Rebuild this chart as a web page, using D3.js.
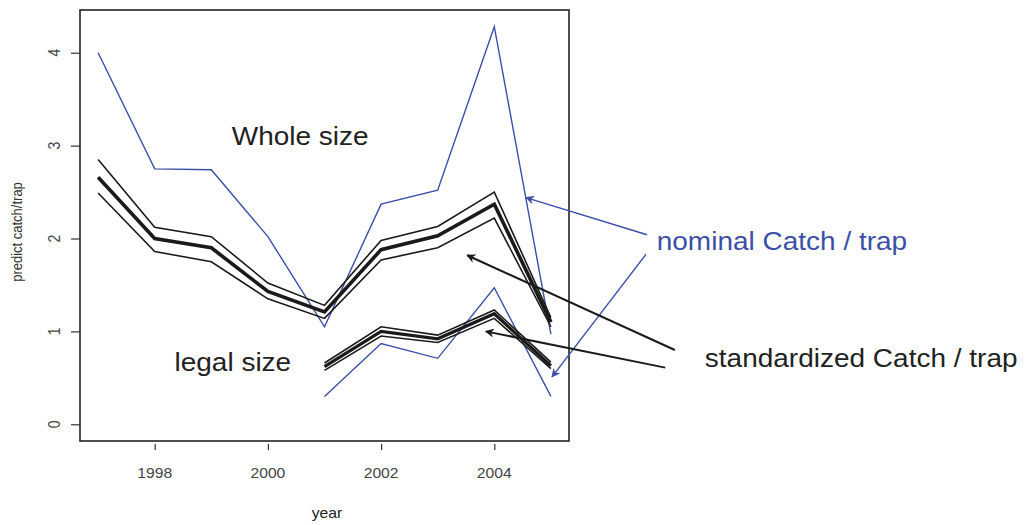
<!DOCTYPE html>
<html>
<head>
<meta charset="utf-8">
<script src="https://cdn.jsdelivr.net/npm/d3@7"></script>
<style>
  html, body { margin: 0; padding: 0; background: #fff; }
  svg { display: block; }
  text { font-family: "Liberation Sans", Arial, Helvetica, sans-serif; }
</style>
</head>
<body>
<svg id="chart" width="1025" height="525"></svg>
<script>
// Survey years
const yearsWhole = [1997, 1998, 1999, 2000, 2001, 2002, 2003, 2004, 2005];
const yearsLegal = [2001, 2002, 2003, 2004, 2005];

// Whole size: nominal catch per trap and standardized estimate with its band
const wholeNominal = [4.00, 2.75, 2.74, 2.02, 1.05, 2.37, 2.52, 4.28, 0.97];
const wholeStd     = [2.66, 2.00, 1.90, 1.43, 1.21, 1.88, 2.03, 2.37, 1.10];
const wholeUpper   = [2.85, 2.12, 2.02, 1.52, 1.28, 1.98, 2.13, 2.50, 1.15];
const wholeLower   = [2.49, 1.86, 1.75, 1.35, 1.14, 1.77, 1.90, 2.22, 1.05];

// Legal size: nominal catch per trap and standardized estimate with its band
const legalNominal = [0.30, 0.87, 0.71, 1.47, 0.30];
const legalStd     = [0.62, 1.00, 0.92, 1.19, 0.63];
const legalUpper   = [0.66, 1.05, 0.96, 1.23, 0.67];
const legalLower   = [0.58, 0.95, 0.88, 1.14, 0.60];

// Axis ticks
const xTicks = [1998, 2000, 2002, 2004];
const yTicks = [0, 1, 2, 3, 4];

// Annotation arrows in data units: [tailYear, tailValue, headYear, headValue]
const blueArrows  = [[2006.70, 2.04, 2004.56, 2.44], [2006.68, 1.83, 2005.02, 0.51]];
const blackArrows = [[2007.19, 0.80, 2003.52, 1.82], [2007.02, 0.61, 2003.85, 1.00]];

const BLUE = "#3c4fa6";
const INK = "#1a1a1a";
const SX = 1.12; // horizontal text stretch

const svg = d3.select("#chart");
const x = d3.scaleLinear().domain([1996.68, 2005.32]).range([80, 569]);
const y = d3.scaleLinear().domain([-0.18, 4.46]).range([441, 10]);

// Arrowhead markers
const defs = svg.append("defs");
[["headBlue", BLUE], ["headBlack", INK]].forEach(([id, c]) => {
  defs.append("marker")
    .attr("id", id)
    .attr("viewBox", "0 0 10 10")
    .attr("refX", 9).attr("refY", 5)
    .attr("markerWidth", 11).attr("markerHeight", 9)
    .attr("markerUnits", "userSpaceOnUse")
    .attr("orient", "auto")
    .append("path").attr("d", "M0,0 L10,5 L0,10 L3,5 Z").attr("fill", c);
});

const line = (yrs) => d3.line().x((d, i) => x(yrs[i])).y(d => y(d));

function drawSeries(vals, yrs, color, width) {
  svg.append("path")
    .datum(vals)
    .attr("d", line(yrs))
    .attr("fill", "none")
    .attr("stroke", color)
    .attr("stroke-width", width)
    .attr("stroke-linejoin", "miter");
}

// Whole size
drawSeries(wholeNominal, yearsWhole, BLUE, 1.4);
drawSeries(wholeUpper, yearsWhole, INK, 1.6);
drawSeries(wholeLower, yearsWhole, INK, 1.6);
drawSeries(wholeStd, yearsWhole, INK, 3.6);

// Legal size
drawSeries(legalNominal, yearsLegal, BLUE, 1.4);
drawSeries(legalUpper, yearsLegal, INK, 1.6);
drawSeries(legalLower, yearsLegal, INK, 1.6);
drawSeries(legalStd, yearsLegal, INK, 3.2);

// Plot frame
svg.append("rect")
  .attr("x", x.range()[0]).attr("y", y.range()[1])
  .attr("width", x.range()[1] - x.range()[0])
  .attr("height", y.range()[0] - y.range()[1])
  .attr("fill", "none").attr("stroke", "#222").attr("stroke-width", 1.6);

// X axis
const xAxis = svg.append("g")
  .attr("transform", `translate(0,${y.range()[0]})`)
  .call(d3.axisBottom(x).tickValues(xTicks).tickFormat(d3.format("d")).tickSize(8).tickPadding(0));
xAxis.select(".domain").remove();
xAxis.selectAll(".tick line").attr("stroke", "#333").attr("stroke-width", 1.2).attr("y1", 3).attr("y2", 9);
xAxis.selectAll(".tick text").remove();
xTicks.forEach(t => {
  svg.append("text")
    .attr("transform", `translate(${x(t)},478) scale(${SX},1)`)
    .attr("text-anchor", "middle")
    .attr("font-size", 14).attr("fill", "#444")
    .text(t);
});

// Y axis
const yAxis = svg.append("g")
  .attr("transform", `translate(${x.range()[0]},0)`)
  .call(d3.axisLeft(y).tickValues(yTicks).tickSize(9));
yAxis.select(".domain").remove();
yAxis.selectAll(".tick line").attr("stroke", "#333").attr("stroke-width", 1.2);
yAxis.selectAll(".tick text").remove();
yTicks.forEach(t => {
  svg.append("text")
    .attr("transform", `translate(60,${y(t)}) rotate(-90) scale(1,${SX})`)
    .attr("text-anchor", "middle")
    .attr("font-size", 14).attr("fill", "#444")
    .text(t);
});

// Axis titles
svg.append("text")
  .attr("transform", `translate(327,518) scale(${SX},1)`)
  .attr("text-anchor", "middle").attr("font-size", 14).attr("fill", "#222")
  .text("year");
svg.append("text")
  .attr("transform", `translate(22,232) rotate(-90) scale(1,${SX})`)
  .attr("text-anchor", "middle").attr("font-size", 13).attr("fill", "#333")
  .text("predict catch/trap");

// Annotation arrows
function drawArrows(list, color, marker) {
  svg.selectAll(null).data(list).enter().append("line")
    .attr("x1", d => x(d[0])).attr("y1", d => y(d[1]))
    .attr("x2", d => x(d[2])).attr("y2", d => y(d[3]))
    .attr("stroke", color).attr("stroke-width", color === BLUE ? 1.4 : 2)
    .attr("marker-end", `url(#${marker})`);
}
drawArrows(blueArrows, BLUE, "headBlue");
drawArrows(blackArrows, INK, "headBlack");

// Annotation labels
function label(txt, yr, val, size, color, anchor) {
  svg.append("text")
    .attr("transform", `translate(${x(yr)},${y(val)}) scale(${SX},1)`)
    .attr("text-anchor", anchor).attr("dominant-baseline", "central")
    .attr("font-size", size).attr("fill", color)
    .text(txt);
}
label("Whole size", 2000.57, 3.10, 25, "#222", "middle");
label("legal size", 1999.38, 0.66, 25, "#222", "middle");
label("nominal Catch / trap", 2006.87, 1.97, 25, BLUE, "start");
label("standardized Catch / trap", 2007.72, 0.71, 25, "#222", "start");
</script>
</body>
</html>
